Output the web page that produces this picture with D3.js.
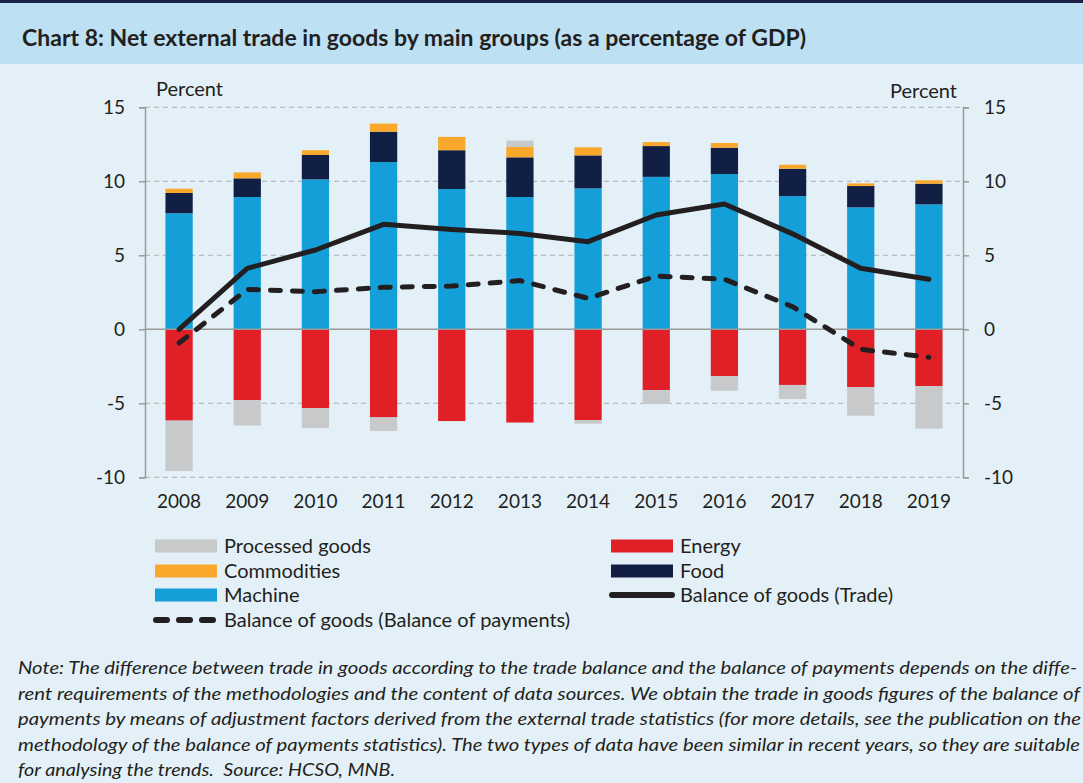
<!DOCTYPE html>
<html>
<head>
<meta charset="utf-8">
<script src="https://cdn.jsdelivr.net/npm/d3@7"></script>
<style>
  body { margin: 0; background: #e3f0f7; }
  svg { display: block; font-family: Lato, "Open Sans", sans-serif; }
</style>
</head>
<body>
<svg id="chart"></svg>
<script>
var years = ['2008','2009','2010','2011','2012','2013','2014','2015','2016','2017','2018','2019'];
var machine = [7.84, 8.94, 10.13, 11.3, 9.48, 8.94, 9.52, 10.3, 10.49, 9.0, 8.24, 8.44];
var food = [1.37, 1.26, 1.65, 2.05, 2.62, 2.68, 2.23, 2.08, 1.78, 1.85, 1.44, 1.4];
var commodities = [0.29, 0.4, 0.32, 0.55, 0.9, 0.7, 0.55, 0.27, 0.32, 0.27, 0.18, 0.23];
var energy = [-6.17, -4.78, -5.32, -5.95, -6.2, -6.3, -6.13, -4.1, -3.16, -3.76, -3.9, -3.83];
var processed = [-3.4, -1.72, -1.35, -0.92, 0, 0.43, -0.25, -0.95, -0.99, -0.95, -1.94, -2.88];
var balanceTrade = [0.0, 4.12, 5.36, 7.09, 6.75, 6.48, 5.92, 7.72, 8.47, 6.45, 4.12, 3.38];
var balancePayments = [-0.93, 2.7, 2.54, 2.84, 2.92, 3.29, 2.09, 3.6, 3.38, 1.53, -1.35, -1.89];
var yTicks = [-10, -5, 0, 5, 10, 15];

var noteLines = [
  'Note: The difference between trade in goods according to the trade balance and the balance of payments depends on the diffe-',
  'rent requirements of the methodologies and the content of data sources. We obtain the trade in goods figures of the balance of',
  'payments by means of adjustment factors derived from the external trade statistics (for more details, see the publication on the',
  'methodology of the balance of payments statistics). The two types of data have been similar in recent years, so they are suitable',
  'for analysing the trends.  Source: HCSO, MNB.'
];

var colors = {
  machine: '#159fd9',
  food: '#121f45',
  commodities: '#f9a82b',
  energy: '#e11f27',
  processed: '#c8c9cb',
  line: '#231f20'
};

var W = 1083, H = 783;
var svg = d3.select('#chart').attr('width', W).attr('height', H);

// background + title band
svg.append('rect').attr('width', W).attr('height', H).attr('fill', '#e3f0f7');
svg.append('rect').attr('x', 0).attr('y', 0).attr('width', W).attr('height', 64).attr('fill', '#bde0f2');
svg.append('rect').attr('x', 0).attr('y', 0).attr('width', W).attr('height', 3).attr('fill', '#1b2147');
svg.append('text')
  .attr('x', 22).attr('y', 46)
  .attr('font-size', 22).attr('font-weight', 'bold').attr('fill', '#231f20')
  .attr('textLength', 784).attr('lengthAdjust', 'spacingAndGlyphs')
  .text('Chart 8: Net external trade in goods by main groups (as a percentage of GDP)');

// plot scales
var x0 = 145, x1 = 963, yTop = 107.3, yBot = 477.3;
var x = d3.scaleBand().domain(years).range([x0, x1]).paddingInner(0.6).paddingOuter(0.3);
var y = d3.scaleLinear().domain([-10, 15]).range([yBot, yTop]);

// gridlines
var g = svg.append('g');
g.selectAll('.grid')
  .data(yTicks.filter(function (d) { return d !== 0; }))
  .enter().append('line')
  .attr('x1', x0).attr('x2', x1)
  .attr('y1', function (d) { return y(d); })
  .attr('y2', function (d) { return y(d); })
  .attr('stroke', '#b9bcbf').attr('stroke-width', 1.2)
  .attr('stroke-dasharray', '5,4');

// stacked bars
var keys = ['machine', 'food', 'commodities', 'energy', 'processed'];
var series = { machine: machine, food: food, commodities: commodities, energy: energy, processed: processed };
var table = years.map(function (yr, i) {
  var row = { year: yr };
  keys.forEach(function (k) { row[k] = series[k][i]; });
  return row;
});
var stack = d3.stack().keys(keys).offset(d3.stackOffsetDiverging)(table);

g.selectAll('.layer')
  .data(stack)
  .enter().append('g')
  .attr('fill', function (d) { return colors[d.key]; })
  .selectAll('rect')
  .data(function (d) { return d; })
  .enter().append('rect')
  .attr('x', function (d) { return x(d.data.year); })
  .attr('width', x.bandwidth())
  .attr('y', function (d) { return y(Math.max(d[0], d[1])); })
  .attr('height', function (d) { return Math.abs(y(d[0]) - y(d[1])); });

// zero line
g.append('line')
  .attr('x1', x0).attr('x2', x1).attr('y1', y(0)).attr('y2', y(0))
  .attr('stroke', '#9a9a9a').attr('stroke-width', 1.5);

// axes (hyphen minus like the original)
var fmt = function (d) { return String(d); };
var axisL = svg.append('g')
  .attr('transform', 'translate(' + x0 + ',0)')
  .call(d3.axisLeft(y).tickValues(yTicks).tickSize(6).tickPadding(14).tickFormat(fmt));
var axisR = svg.append('g')
  .attr('transform', 'translate(' + x1 + ',0)')
  .call(d3.axisRight(y).tickValues(yTicks).tickSize(6).tickPadding(15).tickFormat(fmt));
[axisL, axisR].forEach(function (a) {
  a.select('.domain').attr('stroke', '#9a9a9a').attr('stroke-width', 1.5);
  a.selectAll('.tick line').attr('stroke', '#9a9a9a').attr('stroke-width', 1.5);
  a.selectAll('.tick text').attr('font-size', 19).attr('fill', '#231f20').attr('font-family', 'Lato, sans-serif');
});

svg.append('g')
  .attr('transform', 'translate(0,' + yBot + ')')
  .call(d3.axisBottom(x).tickSize(0).tickPadding(17))
  .call(function (a) {
    a.select('.domain').remove();
    a.selectAll('text').attr('font-size', 19).attr('fill', '#231f20').attr('font-family', 'Lato, sans-serif');
  });

svg.append('text').attr('x', 156).attr('y', 96).attr('font-size', 20).attr('fill', '#231f20').text('Percent');
svg.append('text').attr('x', 957).attr('y', 98).attr('text-anchor', 'end').attr('font-size', 20).attr('fill', '#231f20').text('Percent');

// lines
var cx = function (d, i) { return x(years[i]) + x.bandwidth() / 2; };
var line = d3.line().x(cx).y(function (d) { return y(d); });

g.append('path')
  .datum(balanceTrade)
  .attr('d', line)
  .attr('fill', 'none').attr('stroke', colors.line).attr('stroke-width', 5)
  .attr('stroke-linejoin', 'round').attr('stroke-linecap', 'round');

g.append('path')
  .datum(balancePayments)
  .attr('d', line)
  .attr('fill', 'none').attr('stroke', colors.line).attr('stroke-width', 5)
  .attr('stroke-dasharray', '10,12').attr('stroke-linecap', 'round');

// legend
var legendItems = [
  { label: 'Processed goods', key: 'processed', type: 'rect', x: 155, y: 546 },
  { label: 'Energy', key: 'energy', type: 'rect', x: 611, y: 546 },
  { label: 'Commodities', key: 'commodities', type: 'rect', x: 155, y: 571 },
  { label: 'Food', key: 'food', type: 'rect', x: 611, y: 571 },
  { label: 'Machine', key: 'machine', type: 'rect', x: 155, y: 595 },
  { label: 'Balance of goods (Trade)', key: 'line', type: 'solid', x: 611, y: 595 },
  { label: 'Balance of goods (Balance of payments)', key: 'line', type: 'dash', x: 155, y: 620 }
];
var lg = svg.append('g');
legendItems.forEach(function (d) {
  if (d.type === 'rect') {
    lg.append('rect').attr('x', d.x).attr('y', d.y - 6.5).attr('width', 62).attr('height', 13).attr('fill', colors[d.key]);
  } else {
    lg.append('line')
      .attr('x1', d.x + 1).attr('x2', d.x + 61).attr('y1', d.y).attr('y2', d.y)
      .attr('stroke', colors.line).attr('stroke-width', 6).attr('stroke-linecap', 'round')
      .attr('stroke-dasharray', d.type === 'dash' ? '11,12' : null);
  }
  lg.append('text').attr('x', d.x + 69).attr('y', d.y + 7).attr('font-size', 20).attr('fill', '#231f20').text(d.label);
});

// note
var noteY = [674, 700, 725, 751, 776];
var noteW = [1059, 1062, 1063, 1062, 377];
svg.append('g').selectAll('text')
  .data(noteLines)
  .enter().append('text')
  .attr('x', 18)
  .attr('y', function (d, i) { return noteY[i]; })
  .attr('font-size', 17).attr('font-style', 'italic').attr('fill', '#231f20')
  .style('white-space', 'pre')
  .attr('textLength', function (d, i) { return noteW[i]; })
  .attr('lengthAdjust', 'spacingAndGlyphs')
  .text(function (d) { return d; });
</script>
</body>
</html>
